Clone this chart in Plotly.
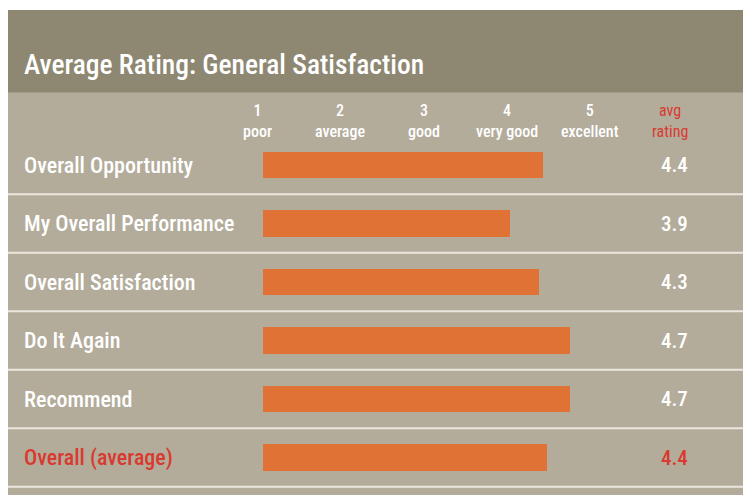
import plotly.graph_objects as go

# ---- data ----
categories = ["Overall Opportunity", "My Overall Performance", "Overall Satisfaction",
              "Do It Again", "Recommend", "Overall (average)"]
bar_values = [4.37, 3.97, 4.33, 4.70, 4.70, 4.42]
rating_labels = ["4.4", "3.9", "4.3", "4.7", "4.7", "4.4"]
scale_values = [1, 2, 3, 4, 5]
scale_labels = ["poor", "average", "good", "very good", "excellent"]
title_text = "Average Rating: General Satisfaction"

# ---- style ----
W, H = 751, 495
OFF = 8  # browser body margin
HEADER = "#8e8872"
BODY = "#b3ac9b"
ORANGE = "#e07236"
RED = "#d93a2f"
WHITE = "#ffffff"
SEP = "#ebe7df"
FONT = "Roboto Condensed, Liberation Sans Narrow, Roboto, sans-serif"


def px(x):
    return (x - OFF) / W


def py(y):
    return 1 - (y - OFF) / H


# pixel geometry -> axis ranges (in page pixels)
x_one_px, unit_px = 262.7 - OFF, 83.1
x0 = 1 - x_one_px / unit_px
x1 = x0 + W / unit_px
row0_px, row_px = 165.0 - OFF, 58.5
y_top = -row0_px / row_px
y_bot = y_top + H / row_px

ys = list(range(len(categories)))

fig = go.Figure()
fig.add_trace(go.Bar(
    y=ys, x=[v - 1 for v in bar_values], base=1, orientation="h",
    marker=dict(color=ORANGE, line=dict(width=0)), width=0.455,
    hoverinfo="skip",
))

shapes = [
    dict(type="rect", xref="paper", yref="paper", x0=px(8), x1=1, y0=0, y1=py(10),
         fillcolor=BODY, line=dict(width=0), layer="below"),
    dict(type="rect", xref="paper", yref="paper", x0=px(8), x1=1, y0=py(92.5), y1=py(10),
         fillcolor=HEADER, line=dict(width=0), layer="below"),
]
for i in ys:
    shapes.append(dict(type="line", xref="paper", yref="y", x0=px(8), x1=1, y0=i + 0.5, y1=i + 0.5,
                       line=dict(color=SEP, width=2.2), layer="below"))

ann = [dict(text=title_text, xref="paper", yref="paper", x=px(22), y=py(64),
            xanchor="left", yanchor="middle", showarrow=False,
            font=dict(family=FONT, size=27.5, color=WHITE, weight=500))]
n = len(categories)
for i, (c, r) in enumerate(zip(categories, rating_labels)):
    col = RED if i == n - 1 else WHITE
    ann.append(dict(text=c, xref="paper", yref="y", x=px(22), y=i, xanchor="left", yanchor="middle",
                    showarrow=False, font=dict(family=FONT, size=22, color=col, weight=500)))
    ann.append(dict(text=r, xref="paper", yref="y", x=px(674), y=i, xanchor="center", yanchor="middle",
                    showarrow=False, font=dict(family=FONT, size=21, color=col, weight=500)))
for v, lab in zip(scale_values, scale_labels):
    ann.append(dict(text=f"{v}<br>{lab}", xref="x", yref="paper", x=v - 0.065, y=py(121),
                    xanchor="center", yanchor="middle", showarrow=False,
                    font=dict(family=FONT, size=16, color=WHITE, weight=500)))
ann.append(dict(text="avg<br>rating", xref="paper", yref="paper", x=px(670), y=py(121),
                xanchor="center", yanchor="middle", showarrow=False,
                font=dict(family=FONT, size=16, color=RED)))

fig.update_layout(
    width=W, height=H, margin=dict(l=0, r=0, t=0, b=0),
    paper_bgcolor=WHITE, plot_bgcolor="rgba(0,0,0,0)",
    showlegend=False, bargap=0,
    xaxis=dict(range=[x0, x1], visible=False, fixedrange=True),
    yaxis=dict(range=[y_bot, y_top], visible=False, fixedrange=True),
    shapes=shapes, annotations=ann,
)

fig.write_html("out.html")
